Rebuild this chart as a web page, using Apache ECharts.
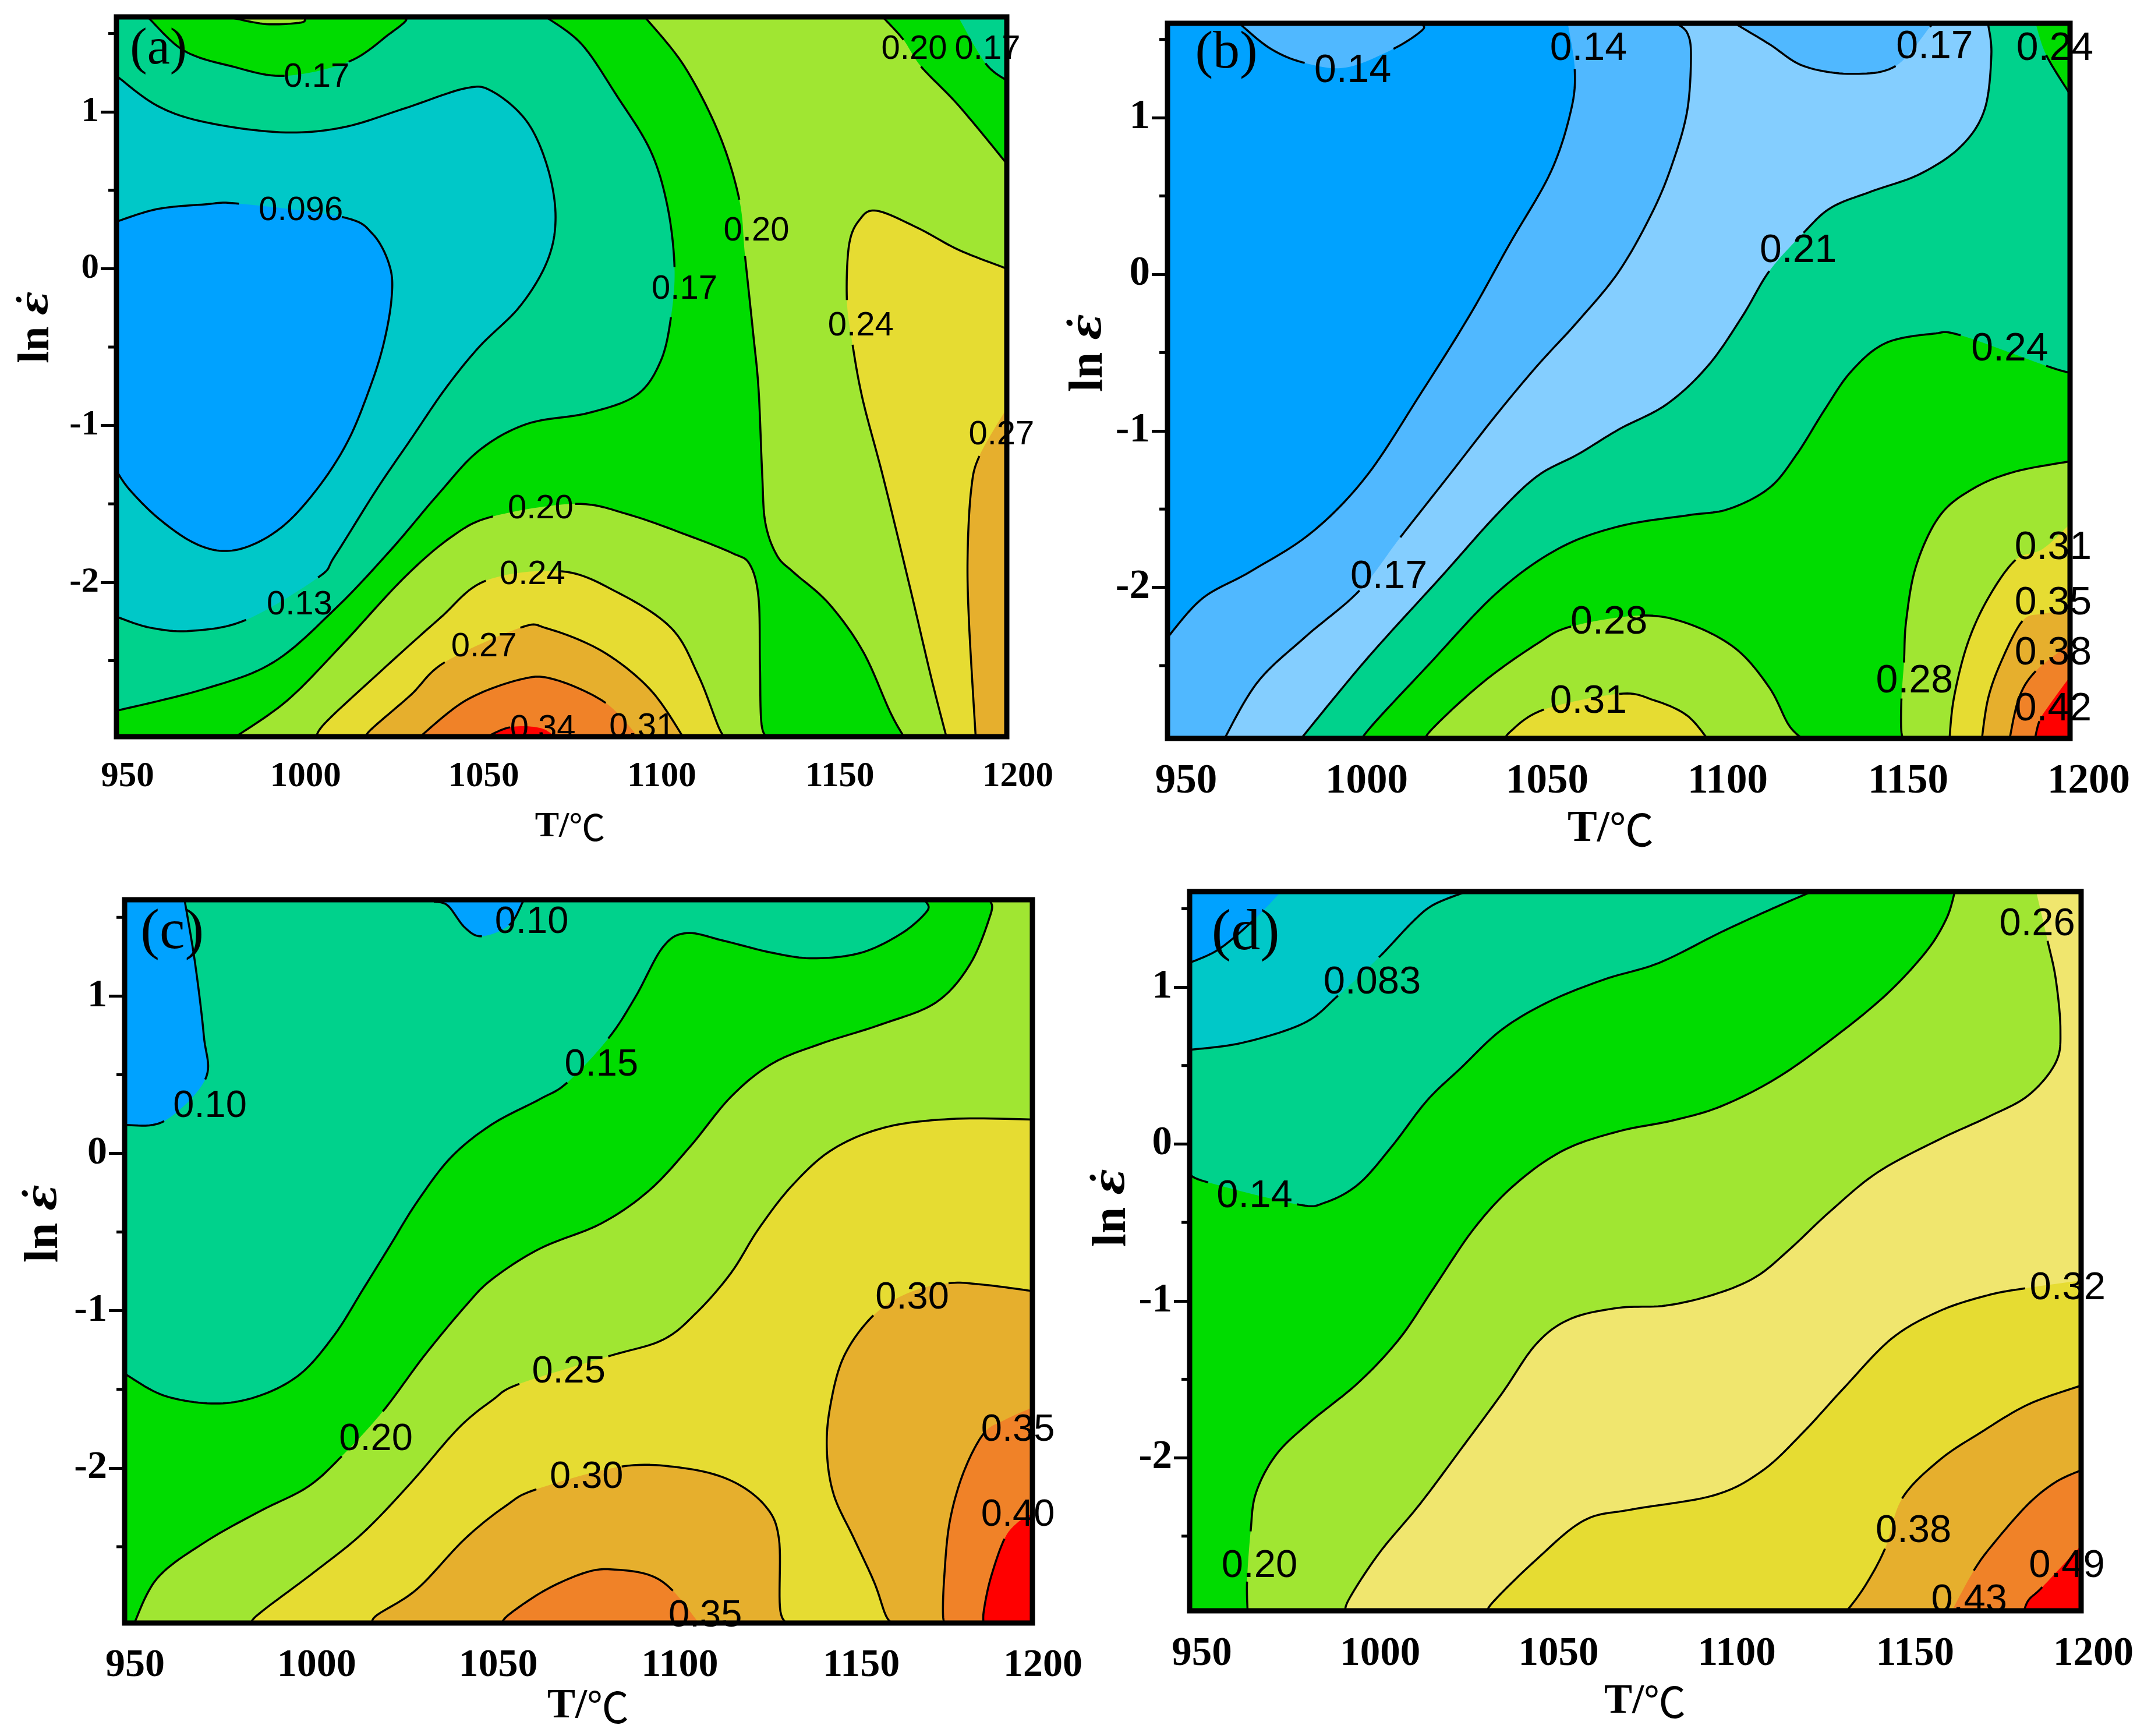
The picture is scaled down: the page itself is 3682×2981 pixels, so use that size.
<!DOCTYPE html>
<html><head><meta charset="utf-8">
<style>html,body{margin:0;padding:0;background:#fff}#c{width:3682px;height:2981px}</style>
<script src="https://cdn.jsdelivr.net/npm/echarts@6/dist/echarts.min.js"></script>
</head><body><div id="c"></div>
<script>
// ---------- axis ticks ----------
const xRange = [950, 1200];
const yTickValues = [-2, -1, 0, 1];
const yMinorValues = [-2.5, -1.5, -0.5, 0.5, 1.5];

// ---------- colours of the contour bands ----------
const BLUE='#00A2FF', SKY='#50B8FF', PALE='#84CEFF', TEAL='#00C8C8', SEA='#00D28C', GREEN='#00DC00',
      LIME='#A0E632', LEMON='#F0E66E', YELLOW='#E6DC32', AMBER='#E6AF2D', ORANGE='#F08228', RED='#FF0000';

// ---------- panel (a): contour lines as [T, ln strain rate]; null = gap for a label ----------
const a096 = [[950,.30],[961.4,.38],[974.8,.41],[984.4,.415],null,[1013.3,.33],[1022,.22],[1026.8,.01],[1027.2,-.20],[1024.9,-.49],[1021,-.77],[1015.2,-1.09],[1007.5,-1.37],[997.9,-1.62],[988.3,-1.76],[979.6,-1.80],[971,-1.74],[961.4,-1.585],[953.7,-1.41],[950,-1.29]];
const a13 = [[950,1.23],[961.4,1.04],[974.8,.935],[996,.87],[1013.3,.90],[1030.6,1.02],[1047.9,1.15],[1055.6,1.13],[1065.2,.94],[1071,.65],[1073.3,.33],[1071,.05],[1063.3,-.24],[1051.8,-.50],[1042.2,-.77],[1032.6,-1.09],[1023,-1.41],[1011.4,-1.83],[1006.6,-1.97],null,[986.4,-2.24],[971,-2.31],[959.5,-2.29],[950,-2.22]];
const a17 = [[1071,1.6],[1080.7,1.43],[1090.3,1.11],[1099.9,.755],[1104.7,.40],[1106.7,.01],null,[1105.7,-.31],[1102.8,-.59],[1096.1,-.805],[1082.6,-.92],[1065.3,-.99],[1051.8,-1.16],[1040.3,-1.44],[1026.8,-1.80],[1011.4,-2.17],[994.1,-2.51],[974.8,-2.68],[950,-2.82]];
const a17Top = [[959,1.6],[969,1.39],[982.5,1.29],[997.2,1.23],null,[1015.2,1.32],[1026.8,1.5],[1031.2,1.58],[1030.6,1.6]];
const a20Top = [[982.5,1.6],[992.1,1.56],[1001.8,1.57],[1002.9,1.6]];
const a20Mid = [[1098.6,1.6],[1109.5,1.29],[1119.2,.86],[1124.9,.44],null,[1126.5,.08],[1128.8,-.415],[1130.3,-.77],[1131.3,-1.30],[1132.2,-1.62],[1135.5,-1.83],[1140.3,-1.94],[1150,-2.135],[1159.6,-2.44],[1167.3,-2.83],[1171.5,-3]];
const a20Corner = [[1165.4,1.6],[1171,1.46],null,[1175.9,1.29],[1186.5,1.04],[1200,.67]];
const a17Corner = [[1186.5,1.6],null,[1194,1.31],[1200,1.2]];
const a20Hump = [[982.5,-3],[997.9,-2.755],[1013.3,-2.40],[1030.6,-1.975],[1044.1,-1.71],[1055.7,-1.58],null,[1078.8,-1.50],[1094.1,-1.57],[1111.5,-1.71],[1123,-1.815],[1127.8,-1.885],[1130.3,-2.10],[1130.7,-2.54],[1131.3,-2.93],[1134.6,-3]];
const a24Hump = [[1006,-3],[1008.5,-2.90],[1022.9,-2.595],[1040.3,-2.24],[1053.7,-1.99],null,[1074.9,-1.93],[1090.3,-2.06],[1105.7,-2.29],[1113.4,-2.595],[1119.2,-2.93],[1121.5,-3]];
const a24Right = [[1200,0],[1186.5,.12],[1175,.26],[1163.4,.37],[1158.6,.31],[1155.7,.15],[1155.1,-.20],null,[1156.7,-.485],[1159.6,-.84],[1165.4,-1.34],[1173,-2.05],[1178.8,-2.61],[1183.2,-3]];
const a27Hump = [[1020.6,-3],[1021,-2.95],[1032.6,-2.72],[1042.2,-2.51],null,[1063.4,-2.29],[1071,-2.295],[1086.4,-2.44],[1099.9,-2.685],[1109.5,-3]];
const a27Right = [[1200,-.89],null,[1192.3,-1.195],[1190,-1.41],[1189,-1.83],[1189.4,-2.26],[1191.3,-3]];
const a31Hump = [[1034.5,-3],[1048,-2.755],[1063.4,-2.62],[1073,-2.62],[1087.4,-2.77],null,[1097,-3]];
const a34Hump = [[1052.8,-3],[1060.5,-2.925],null,[1069.1,-2.93],null,[1074,-3]];
const aLabels = [['0.096',1001.8,.38],['0.13',1001.4,-2.135],['0.17',1006.2,1.23],['0.17',1109.5,-.12],['0.20',1129.7,.25],['0.20',1174,1.41],['0.17',1194.6,1.41],['0.20',1069.1,-1.52],['0.24',1066.8,-1.94],['0.24',1159,-.355],['0.27',1053.2,-2.40],['0.27',1198.5,-1.05],['0.31',1097.6,-2.915],['0.34',1069.7,-2.925]];

// ---------- panel (b) ----------
const b14Main = [[1060.9,1.6],null,[1062.8,1.31],[1061.8,1.05],[1056.2,.655],[1044.8,.195],[1033.5,-.27],[1020.2,-.76],[1005.1,-1.29],[989.9,-1.65],[972.9,-1.90],[959.7,-2.07],[950,-2.32]];
const b14Top = [[970,1.6],[978.6,1.44],[988,1.35],null,[999.4,1.32],null,[1012.6,1.44],[1020.6,1.56],[1020.2,1.6]];
const b17Main = [[1091.2,1.6],[1094,1.54],[1095,1.40],[1094,1.05],[1090.2,.73],[1084.6,.41],[1075.1,.02],[1063.7,-.30],[1052.4,-.585],[1041,-.90],[1027.8,-1.29],[1014.5,-1.68],null,[1003.2,-2.02],[988,-2.32],[974.8,-2.61],[965,-3]];
const b17Top = [[1107.3,1.6],[1116.7,1.47],[1126.2,1.33],[1139.4,1.28],[1151.7,1.33],null,[1161.2,1.58],[1161.8,1.6]];
const b21 = [[1177.3,1.6],[1178.2,1.40],[1176.3,1.05],[1169.7,.815],[1158.4,.64],[1145.1,.53],[1133.8,.425],[1126.2,.265],null,[1116.7,.02],[1109.2,-.27],[1099.7,-.585],[1088.3,-.83],[1075.1,-.99],[1063.7,-1.15],[1052.4,-1.29],[1041,-1.54],[1025.9,-1.93],[1005.1,-2.46],[985.8,-3]];
const b24Main = [[1004.7,-3],[1005.1,-2.925],[1022.1,-2.5],[1041,-2.04],[1058.1,-1.755],[1075.1,-1.61],[1094,-1.54],[1105.4,-1.5],[1116.7,-1.365],[1124.3,-1.15],[1131.9,-.87],[1139.4,-.62],[1148.9,-.44],[1162.1,-.38],[1169.7,-.39],null,[1193.4,-.585],[1200,-.63]];
const b24Corner = [[1190.5,1.6],null,[1193.4,1.40],[1200,1.15]];
const b28Hump = [[1022.5,-3],[1022.5,-2.925],[1037.2,-2.61],[1052.4,-2.36],[1061.8,-2.25],null,[1080.8,-2.18],[1094,-2.23],[1107.3,-2.39],[1116.7,-2.64],[1122.4,-2.89],[1128,-3]];
const b28Right = [[1200,-1.195],[1184.9,-1.26],[1173.5,-1.365],[1164,-1.54],[1157.4,-1.86],[1154.6,-2.215],[1154,-2.48],null,[1153.3,-2.71],[1153.3,-2.925],[1154.6,-3]];
const b31Hump = [[1043.3,-3],[1044.8,-2.925],[1054.3,-2.78],null,[1075.1,-2.68],[1084.6,-2.72],[1094,-2.82],[1100.6,-3]];
const b31Right = [[1200,-1.595],null,[1192.4,-1.755],null,[1184.9,-1.825],[1177.3,-2.07],[1171.6,-2.36],[1167.8,-2.71],[1166.5,-3]];
const b35Right = [[1200,-2.15],null,[1192,-2.17],null,[1186.8,-2.215],[1181.1,-2.465],[1177.3,-2.71],[1175.4,-3]];
const b38Right = [[1200,-2.36],null,[1190.5,-2.535],[1185.8,-2.71],[1183,-3]];
const b42Right = [[1200,-2.57],null,[1194.3,-2.75],null,[1191.5,-2.855],[1190,-3]];
const bLabels = [['0.14',1001.3,1.31],['0.14',1066.6,1.45],['0.17',1162.5,1.46],['0.24',1195.8,1.45],['0.21',1124.7,.16],['0.24',1183.3,-.47],['0.17',1011.3,-1.925],['0.28',1072.3,-2.215],['0.28',1156.9,-2.59],['0.31',1066.6,-2.72],['0.31',1195.3,-1.74],['0.35',1195.3,-2.09],['0.38',1195.3,-2.41],['0.42',1195.3,-2.77]];

// ---------- panel (c) ----------
const c10Left = [[966.6,1.6],[969.4,1.21],[971.8,.75],[972.2,.47],null,[960.9,.205],[950,.18]];
const c10Top = [[1035.2,1.6],[1039,1.575],[1043.7,1.435],[1048.4,1.38],null,[1055.9,1.45],[1059.7,1.6]];
const c15 = [[950,-1.40],[960.9,-1.54],[975,-1.59],[987.2,-1.54],[998.5,-1.40],[1007.9,-1.15],[1015.5,-.87],[1023,-.59],[1030.5,-.31],[1039.9,-.025],[1051.2,.185],[1064.4,.345],[1071.9,.45],null,[1083.2,.73],[1090.7,.995],[1098.2,1.31],[1104.8,1.40],[1115.2,1.35],[1128.3,1.275],[1139.6,1.24],[1152.8,1.275],[1164.1,1.40],[1171,1.54],[1170.7,1.6]];
const c20 = [[952.4,-3],[959,-2.70],[972.2,-2.47],[987.2,-2.275],[1000.4,-2.12],[1009.8,-1.925],null,[1021.1,-1.64],[1032.4,-1.29],[1043.7,-.975],[1051.2,-.80],[1064.4,-.605],[1081.3,-.445],[1094.5,-.235],[1105.8,.045],[1117,.36],[1128.3,.57],[1141.5,.695],[1158.4,.82],[1173.5,.96],[1182.9,1.205],[1188.5,1.52],[1188.5,1.6]];
const c25 = [[985.7,-3],[986.3,-2.94],[1002.3,-2.66],[1015.5,-2.415],[1028.6,-2.10],[1041.8,-1.75],[1051.2,-1.57],[1058.7,-1.465],null,[1083.2,-1.29],[1098.2,-1.185],[1107.6,-1.01],[1117,-.76],[1124.6,-.48],[1134,-.20],[1145.3,.03],[1160.3,.17],[1179.1,.22],[1200,.215]];
const c30Hump = [[1018.7,-3],[1019.2,-2.94],[1030.5,-2.77],[1043.7,-2.45],[1055,-2.24],[1063.4,-2.135],null,[1086.9,-1.99],[1103.9,-2.0],[1117,-2.08],[1126.4,-2.24],[1130.2,-2.45],[1130.6,-2.91],[1134,-3]];
const c30Right = [[1200,-.875],[1186.6,-.835],[1176.9,-.825],null,[1166,-.885],null,[1156.2,-1.03],[1148.1,-1.29],[1144.3,-1.61],[1143.4,-1.89],[1145.3,-2.17],[1150.9,-2.45],[1156.5,-2.73],[1159.7,-2.94],[1162.2,-3]];
const c35Hump = [[1053.6,-3],[1055.9,-2.93],[1066.3,-2.77],[1077.5,-2.66],[1085,-2.645],[1094.5,-2.68],[1101,-2.78],null,[1108.6,-3]];
const c35Right = [[1200,-1.615],null,[1192.3,-1.695],null,[1186.6,-1.78],[1181,-2.03],[1177.2,-2.345],[1175.7,-2.70],[1175.4,-2.94],[1176.3,-3]];
const c40Right = [[1200,-2.29],null,[1196,-2.345],null,[1192.3,-2.45],[1188.5,-2.70],[1186.6,-2.91],[1186.6,-3]];
const cLabels = [['0.10',973.5,.31],['0.10',1062.1,1.48],['0.15',1081.3,.57],['0.20',1019.2,-1.81],['0.25',1072.3,-1.38],['0.30',1077.2,-2.05],['0.30',1166.9,-.91],['0.35',1109.9,-2.93],['0.35',1196,-1.75],['0.40',1196,-2.29]];

// ---------- panel (d) ----------
const d05Corner = [[975.3,1.6],null,[967.6,1.42],[958.1,1.24],[950,1.155]];
const d083 = [[950,.60],[964.8,.645],[982,.77],[991.6,.945],null,[1003.1,1.19],[1012.7,1.42],[1018.4,1.525],[1026.5,1.6]];
const d14 = [[950,-.195],[955.2,-.245],null,[980.1,-.385],[987.8,-.375],[997.4,-.255],[1006.9,-.01],[1016.5,.275],[1026.1,.485],[1037.6,.73],[1051,.91],[1066.4,1.05],[1081.7,1.155],[1099,1.35],[1112.4,1.49],[1123.5,1.6]];
const d20 = [[966.3,-3],[966.1,-2.79],null,[967.1,-2.47],[968.6,-2.225],[974.3,-1.98],[983.9,-1.77],[997.4,-1.52],[1008.9,-1.24],[1018.4,-.92],[1029.9,-.535],[1041.4,-.255],[1054.9,-.04],[1070.2,.08],[1085.5,.15],[1099,.24],[1114.3,.415],[1129.6,.66],[1145,.945],[1156.5,1.225],[1162.2,1.435],[1164.5,1.6]];
const d26 = [[993.9,-3],[994.5,-2.91],[1003.1,-2.61],[1014.6,-2.295],[1026.1,-1.945],[1037.6,-1.59],[1047.2,-1.275],[1056.8,-1.115],[1070.2,-1.045],[1083.6,-1.03],[1097,-.96],[1108.6,-.85],[1118.1,-.675],[1129.6,-.43],[1143,-.18],[1160.3,.03],[1173.7,.17],[1185.2,.31],[1192.9,.52],[1194.2,.73],[1192.9,1.05],[1190.6,1.295],null,[1187.5,1.6]];
const d32 = [[1033.8,-3],[1034.7,-2.93],[1047.2,-2.65],[1060.6,-2.40],[1074,-2.33],[1097,-2.24],[1110.5,-2.085],[1122,-1.84],[1133.5,-1.555],[1146.9,-1.24],[1160.3,-1.065],[1173.7,-.965],[1184.3,-.92],null,[1200,-.87]];
const d38 = [[1133.5,-3],[1139.2,-2.825],[1145,-2.58],null,[1149.8,-2.26],[1160.3,-2.015],[1171.8,-1.84],[1185.2,-1.66],[1200,-1.54]];
const d43 = [[1163.2,-3],null,[1169.9,-2.72],[1175.7,-2.54],[1185.2,-2.295],[1192.9,-2.155],[1200,-2.08]];
const d49 = [[1183.7,-3],[1185.2,-2.91],[1189.1,-2.825],null,[1200,-2.56]];
const dLabels = [['0.083',1001.2,1.04],['0.14',968.2,-.325],['0.26',1187.7,1.41],['0.20',969.6,-2.68],['0.32',1196.2,-.91],['0.38',1153,-2.46],['0.43',1168.6,-2.90],['0.49',1196,-2.68]];

// ---------- painting order: [colour, contour, extra closing corners] ----------
const TL=[950,1.7], TR=[1200,1.7], BR=[1200,-3], BL=[950,-3];
const aFills = [[GREEN,[TL,TR,BR,BL],[]],[SEA,a17,[TL,[1071,1.7]]],[TEAL,a13,[]],[BLUE,a096,[]],[GREEN,a17Top,[[1030.6,1.7],[959,1.7]]],[LIME,a20Top,[[1002.9,1.7],[982.5,1.7]]],
  [LIME,a20Mid,[BR,TR,[1098.6,1.7]]],[GREEN,a20Corner,[TR,[1165.4,1.7]]],[SEA,a17Corner,[TR,[1186.5,1.7]]],[LIME,a20Hump,[]],[YELLOW,a24Hump,[]],[YELLOW,a24Right,[BR]],
  [AMBER,a27Hump,[]],[AMBER,a27Right,[BR]],[ORANGE,a31Hump,[]],[RED,a34Hump,[]]];
const bFills = [[BLUE,[TL,TR,BR,BL],[]],[SKY,b14Main,[BL,BR,TR,[1060.9,1.7]]],[SKY,b14Top,[[1020.2,1.7],[970,1.7]]],[PALE,b17Main,[BR,TR,[1091.2,1.7]]],[SKY,b17Top,[[1161.8,1.7],[1107.3,1.7]]],[SEA,b21,[BR,TR,[1177.3,1.7]]],
  [GREEN,b24Corner,[TR,[1190.5,1.7]]],[GREEN,b24Main,[BR]],[LIME,b28Hump,[]],[LIME,b28Right,[BR]],[YELLOW,b31Hump,[]],[YELLOW,b31Right,[BR]],
  [AMBER,b35Right,[BR]],[ORANGE,b38Right,[BR]],[RED,b42Right,[BR]]];
const cFills = [[SEA,[TL,TR,BR,BL],[]],[BLUE,c10Left,[TL,[966.6,1.7]]],[BLUE,c10Top,[[1059.7,1.7],[1035.2,1.7]]],[GREEN,c15,[[1170.7,1.7],TR,BR,BL]],[LIME,c20,[[1188.5,1.7],TR,BR]],[YELLOW,c25,[BR]],
  [AMBER,c30Hump,[]],[AMBER,c30Right,[BR]],[ORANGE,c35Hump,[]],[ORANGE,c35Right,[BR]],[RED,c40Right,[BR]]];
const dFills = [[TEAL,[TL,TR,BR,BL],[]],[BLUE,d05Corner,[TL,[975.3,1.7]]],[SEA,d083,[[1026.5,1.7],TR,BR,BL]],[GREEN,d14,[[1123.5,1.7],TR,BR,BL]],[LIME,d20,[[1164.5,1.7],TR,BR]],[LEMON,d26,[[1187.5,1.7],TR,BR]],
  [YELLOW,d32,[BR]],[AMBER,d38,[BR]],[ORANGE,d43,[BR]],[RED,d49,[BR]]];

// ---------- layout of the four panels ----------
const panels = [
 {tag:'(a)',tagAt:[961.8,1.395],tagSize:88,fills:aFills,labels:aLabels,labelSize:58,box:[200,29,1529,1236],yExt:[-2.985,1.606],tick:61,name:62,yName:76,xNameC:[979,1420],yNameC:[63,562],xMargin:39,yMargin:30,tickShift:19},
 {tag:'(b)',tagAt:[966.3,1.41],tagSize:92,fills:bFills,labels:bLabels,labelSize:68,box:[2005,40,1550,1228],yExt:[-2.965,1.603],tick:71,name:76,yName:82,xNameC:[2766,1424],yNameC:[1890,606],xMargin:39,yMargin:30,tickShift:32},
 {tag:'(c)',tagAt:[963.1,1.40],tagSize:98,fills:cFills,labels:cLabels,labelSize:65,box:[214,1545,1559,1242],yExt:[-2.985,1.612],tick:68,name:72,yName:82,xNameC:[1010,2926],yNameC:[77,2101],xMargin:39,yMargin:30,tickShift:18},
 {tag:'(d)',tagAt:[965.7,1.34],tagSize:100,fills:dFills,labels:dLabels,labelSize:67,box:[2043,1531,1531,1235],yExt:[-2.976,1.609],tick:69,name:72,yName:82,xNameC:[2825,2922],yNameC:[1923,2074],xMargin:41,yMargin:30,tickShift:21}
];
const SERIF='"Liberation Serif",serif', SANS='"Liberation Sans",Arial,sans-serif';

// Draws a contour through the library's scale; the spline only rounds the rendering between read points.
function trace(curve, coord){
  const pts=[], brk=new Set();
  curve.forEach(p=>{ if(p===null) brk.add(pts.length-1); else pts.push(coord(p)); });
  const all=[], pieces=[]; let cur=[];
  for(let i=0;i<pts.length-1;i++){
    const p0=pts[i-1]||pts[i],p1=pts[i],p2=pts[i+1],p3=pts[i+2]||pts[i+1];
    const seg=[];
    for(let k=0;k<=12;k++){ const t=k/12,t2=t*t,t3=t2*t;
      seg.push([0,1].map(d=>0.5*(2*p1[d]+(p2[d]-p0[d])*t+(2*p0[d]-5*p1[d]+4*p2[d]-p3[d])*t2+(3*p1[d]-p0[d]-3*p2[d]+p3[d])*t3)));
    }
    all.push(...seg);
    if(brk.has(i)){ if(cur.length) pieces.push(cur); cur=[]; } else cur.push(...seg);
  }
  if(cur.length) pieces.push(cur);
  return {all,pieces};
}
const option={backgroundColor:'#fff',animation:false,grid:[],xAxis:[],yAxis:[],series:[]};
panels.forEach((P,i)=>{
  const [l,t,w,h]=P.box;
  option.grid.push({left:l,top:t,width:w,height:h,containLabel:false});
  option.xAxis.push({gridIndex:i,type:'value',min:xRange[0],max:xRange[1],interval:50,
    name:'{t|T/}{c|℃}',nameLocation:'middle',nameGap:P.xNameC[1]-(t+h),
    nameTextStyle:{verticalAlign:'middle',padding:[0,2*(l+w/2-P.xNameC[0]),0,0],
      rich:{t:{fontFamily:SERIF,fontSize:P.name,fontWeight:'bold',color:'#000'},c:{fontFamily:'"Noto Sans CJK SC"',fontSize:P.name,fontWeight:'normal',color:'#000'}}},
    axisLine:{show:false},splitLine:{show:false},
    axisTick:{length:27,lineStyle:{color:'#000',width:4}},
    minorTick:{show:true,splitNumber:2,length:14,lineStyle:{color:'#000',width:4}},
    axisLabel:{margin:P.xMargin,padding:[0,0,0,2*P.tickShift],fontFamily:SERIF,fontWeight:'bold',fontSize:P.tick,color:'#000',formatter:v=>String(v),showMinLabel:true,showMaxLabel:true}});
  option.yAxis.push({gridIndex:i,type:'value',min:P.yExt[0],max:P.yExt[1],
    name:'{l|ln }{e|ε̇}',nameLocation:'middle',nameGap:l-P.yNameC[0],
    nameTextStyle:{verticalAlign:'middle',padding:[0,0,0,2*((t+h/2)-P.yNameC[1])],rich:{l:{fontFamily:SERIF,fontWeight:'bold',fontSize:P.yName,color:'#000'},e:{fontFamily:'"DejaVu Serif"',fontWeight:'bold',fontStyle:'italic',fontSize:P.yName-8,color:'#000'}}},
    axisLine:{show:false},splitLine:{show:false},
    axisTick:{length:27,customValues:yTickValues,lineStyle:{color:'#000',width:5}},
    axisLabel:{margin:P.yMargin,customValues:yTickValues,fontFamily:SERIF,fontWeight:'bold',fontSize:P.tick,color:'#000'}});
  const base={type:'custom',coordinateSystem:'cartesian2d',xAxisIndex:i,yAxisIndex:i,silent:true,encode:{x:0,y:1}};
  // filled bands
  option.series.push(Object.assign({},base,{name:'bands'+i,clip:true,z:2,
    data:P.fills.map(f=>f[1].find(Boolean)),
    renderItem(params,api){
      const f=P.fills[params.dataIndex], tr=trace(f[1],p=>api.coord(p));
      return {type:'polygon',shape:{points:tr.all.concat(f[2].map(p=>api.coord(p)))},style:{fill:f[0]}};
    }}));
  // contour lines
  const lines=P.fills.filter(f=>f[1][0]!==TL);
  option.series.push(Object.assign({},base,{name:'contours'+i,clip:true,z:3,
    data:lines.map(f=>f[1].find(Boolean)),
    renderItem(params,api){
      const tr=trace(lines[params.dataIndex][1],p=>api.coord(p));
      return {type:'group',children:tr.pieces.map(pc=>({type:'polyline',shape:{points:pc},style:{fill:null,stroke:'#000',lineWidth:3.5,lineJoin:'round'}}))};
    }}));
  // frame and minor ticks of the left axis
  option.series.push(Object.assign({},base,{name:'frame'+i,clip:false,z:4,data:[[950,0]],
    renderItem(params,api){
      const a=api.coord([950,P.yExt[1]]),b=api.coord([1200,P.yExt[0]]);
      const kids=[{type:'rect',shape:{x:a[0],y:a[1],width:b[0]-a[0],height:b[1]-a[1]},style:{fill:null,stroke:'#000',lineWidth:9}}];
      yMinorValues.forEach(v=>{const c=api.coord([950,v]);
        kids.push({type:'line',shape:{x1:c[0],y1:c[1],x2:c[0]-14,y2:c[1]},style:{stroke:'#000',lineWidth:5}});});
      return {type:'group',children:kids};
    }}));
  // contour value labels
  option.series.push(Object.assign({},base,{name:'labels'+i,clip:false,z:5,
    data:P.labels.map(x=>[x[1],x[2]]),
    renderItem(params,api){
      const L=P.labels[params.dataIndex], c=api.coord([L[1],L[2]]);
      return {type:'text',x:c[0],y:c[1]+3,style:{text:L[0],fontFamily:SANS,fontSize:P.labelSize,fill:'#000',align:'center',verticalAlign:'middle'}};
    }}));
  // panel tag
  option.series.push(Object.assign({},base,{name:'tag'+i,clip:false,z:6,data:[P.tagAt],
    renderItem(params,api){
      const c=api.coord(P.tagAt);
      return {type:'text',x:c[0],y:c[1],style:{text:P.tag,fontFamily:SERIF,fontSize:P.tagSize,fill:'#000',align:'center',verticalAlign:'middle'}};
    }}));
});
const chart=echarts.init(document.getElementById('c'),null,{renderer:'canvas',width:3682,height:2981});
chart.setOption(option);
</script></body></html>
